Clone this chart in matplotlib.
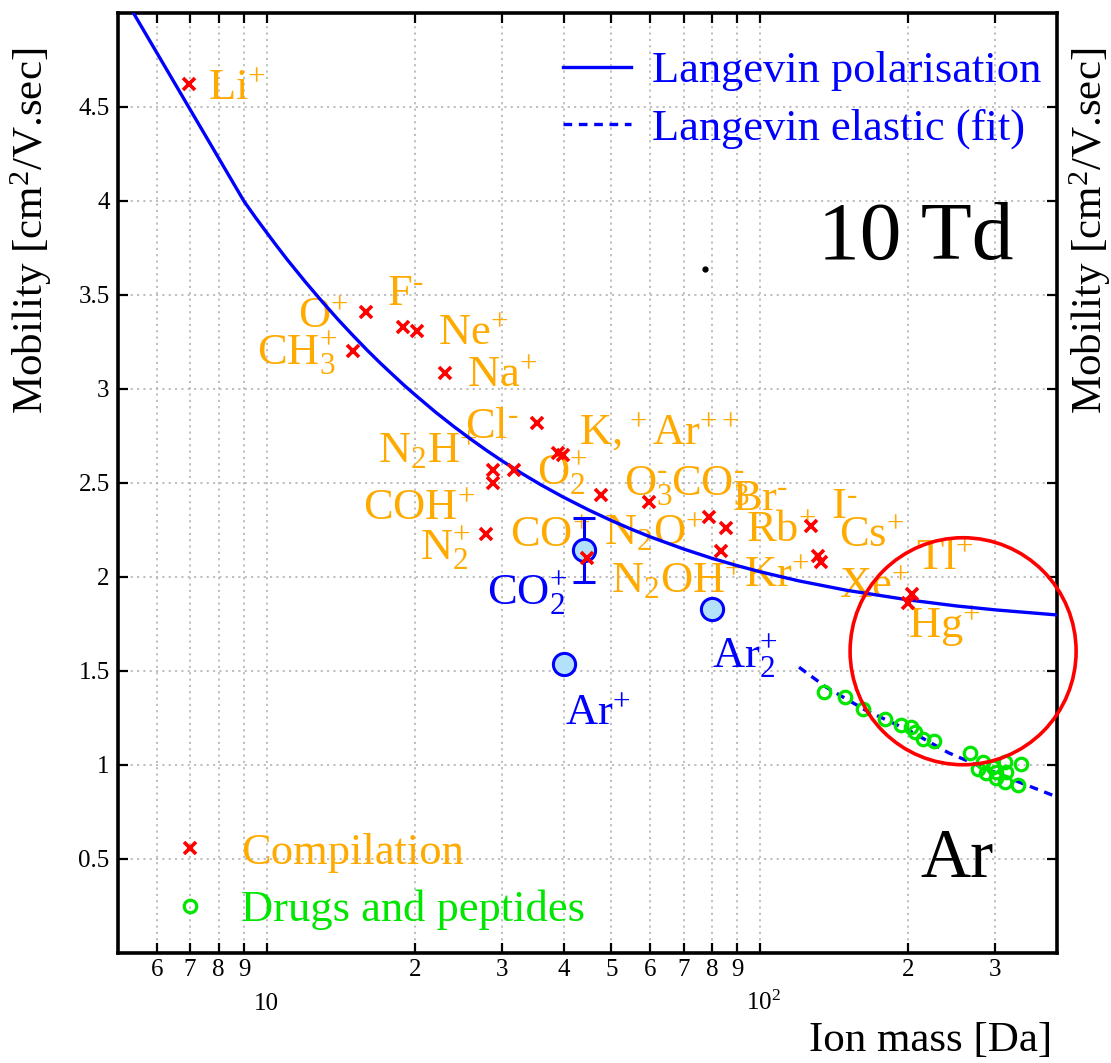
import matplotlib
matplotlib.use('Agg')
import matplotlib.pyplot as plt
from matplotlib.patches import Ellipse
from matplotlib.ticker import FixedLocator, FixedFormatter, NullFormatter
import matplotlib.transforms as mtransforms

plt.rcParams['font.family'] = ['Liberation Serif', 'DejaVu Serif']
plt.rcParams['mathtext.fontset'] = 'custom'
plt.rcParams['mathtext.rm'] = 'Liberation Serif'
plt.rcParams['mathtext.it'] = 'Liberation Serif:italic'
plt.rcParams['mathtext.bf'] = 'Liberation Serif:bold'
plt.rcParams['mathtext.default'] = 'rm'

# ---------------- data ----------------
# Langevin polarisation limit (Ar, 10 Td)
pol_mass = [5, 9, 9.5, 10, 10.5, 11, 12, 13, 14, 15, 16, 17, 18, 19, 20, 22,
            24, 26, 28, 30, 33, 36, 40, 45, 50, 55, 60, 70, 80, 90, 100, 120,
            150, 200, 250, 300, 400]
pol_mob = [5.14, 3.999, 3.912, 3.833, 3.759, 3.690, 3.568, 3.461, 3.366,
           3.282, 3.206, 3.138, 3.077, 3.020, 2.969, 2.877, 2.799, 2.731,
           2.671, 2.618, 2.549, 2.490, 2.424, 2.356, 2.300, 2.253, 2.213,
           2.149, 2.099, 2.060, 2.028, 1.979, 1.929, 1.878, 1.846, 1.825,
           1.798]

# Langevin elastic (fit)
el_mass = [120, 136, 164, 200, 241, 281, 338, 400]
el_mob = [1.52, 1.415, 1.29, 1.185, 1.065, 0.99, 0.905, 0.83]

# Compilation (red crosses)
comp_mass = [6.95, 15.9, 18.9, 20.2, 15.0, 23.0, 28.8, 28.8, 27.9, 31.8, 35.3,
             38.9, 39.8, 44.7, 47.7, 59.7, 78.9, 85.3, 83.4, 126.7, 131, 133,
             203, 200]
comp_mob = [4.62, 3.41, 3.33, 3.31, 3.20, 3.085, 2.57, 2.50, 2.23, 2.57, 2.82,
            2.66, 2.65, 2.10, 2.435, 2.40, 2.32, 2.26, 2.14, 2.27, 2.11, 2.08,
            1.91, 1.86]

# Drugs and peptides (green circles)
drug_mass = [135, 148.5, 162, 179, 193, 202, 206, 214, 225, 266.6, 283.5,
             276.7, 297, 314, 338, 287.6, 301, 315.5, 314, 333, 301]
drug_mob = [1.39, 1.36, 1.30, 1.245, 1.21, 1.20, 1.175, 1.14, 1.13, 1.064,
            1.016, 0.979, 0.989, 1.016, 1.005, 0.957, 0.931, 0.963, 0.910,
            0.894, 0.963]

# Argon ions (blue circles)
ar_mass = [44, 80, 40]
ar_mob = [2.145, 1.83, 1.537]
ar_err = [0.17, 0.0, 0.0]

# stray point
stray_mass = [77.4]
stray_mob = [3.64]

# ion labels (orange)
ion_labels = [r'$Li^{+}$', r'$O^{+}$', r'$F^{\text{-}}$', r'$Ne^{+}$',
              r'$CH_{3}^{+}$', r'$Na^{+}$', r'$Cl^{\text{-}}$',
              r'$N_{2}H^{+}$', r'$COH^{+}$', r'$N_{2}^{+}$', r'$K,^{+}$',
              r'$Ar^{++}$', r'$O_{2}^{+}$', r'$O_{3}^{\text{-}}$',
              r'$CO_{3}^{\text{-}}$', r'$Br^{\text{-}}$', r'$Rb^{+}$',
              r'$I^{\text{-}}$', r'$Cs^{+}$', r'$CO^{+}$', r'$N_{2}O^{+}$',
              r'$N_{2}OH^{+}$', r'$Kr^{+}$', r'$Xe^{+}$', r'$Tl^{+}$',
              r'$Hg^{+}$']
ion_label_mass = [7.6, 11.6, 17.55, 22.26, 9.55, 25.5, 25.2, 16.84, 15.7, 20.47,
                  43.0, 60.5, 35.3, 53.1, 66.1, 87.8, 93.7, 139.1, 144.5, 31.1,
                  48.4, 50.0, 92.8, 144.5, 207.6, 199.1]
ion_label_mob = [4.537, 3.324, 3.447, 3.234, 3.128, 3.011, 2.739, 2.606, 2.303,
                 2.090, 2.702, 2.702, 2.489, 2.436, 2.436, 2.356, 2.186, 2.314,
                 2.160, 2.160, 2.170, 1.915, 1.947, 1.888, 2.037, 1.676]

# argon labels (blue)
ar_labels = [r'$CO_{2}^{+}$', r'$Ar_{2}^{+}$', r'$Ar^{+}$']
ar_label_mass = [27.96, 80.0, 40.2]
ar_label_mob = [1.851, 1.516, 1.213]

# axis ticks
x_major = [10, 100]
x_major_labels = ['10', r'$10^{2}$']
x_minor = [6, 7, 8, 9, 20, 30, 40, 50, 60, 70, 80, 90, 200, 300]
x_minor_labels = ['6', '7', '8', '9', '2', '3', '4', '5', '6', '7', '8', '9',
                  '2', '3']
y_ticks = [0.5, 1, 1.5, 2, 2.5, 3, 3.5, 4, 4.5]
y_tick_labels = ['0.5', '1', '1.5', '2', '2.5', '3', '3.5', '4', '4.5']

# ---------------- figure ----------------
ORANGE = '#ffaa00'
GREEN = '#00e600'
BLUE = '#0000ff'
LFS = 32

fig = plt.figure(figsize=(11.11, 10.63), dpi=100)
ax = fig.add_axes([0.1062, 0.1035, 0.8452, 0.8843])
ax.set_xscale('log')
ax.set_xlim(5, 400)
ax.set_ylim(0, 5)
ax.set_axisbelow(True)

# ticks
ax.xaxis.set_major_locator(FixedLocator(x_major))
ax.xaxis.set_major_formatter(NullFormatter())
ax.xaxis.set_minor_locator(FixedLocator(x_minor))
ax.xaxis.set_minor_formatter(FixedFormatter(x_minor_labels))
ax.yaxis.set_major_locator(FixedLocator(y_ticks))
ax.yaxis.set_major_formatter(FixedFormatter(y_tick_labels))
ax.yaxis.set_minor_locator(FixedLocator([]))
ax.tick_params(which='both', direction='in', top=True, right=True,
               length=7, width=1.6, labelsize=18, color='black')
ax.tick_params(axis='x', which='minor', pad=4)
ax.tick_params(axis='y', which='major', pad=6)
for s in ax.spines.values():
    s.set_linewidth(2.6)

for v, s in zip(x_major, x_major_labels):
    off = 4 if '^' in s else 0
    tr = mtransforms.offset_copy(ax.get_xaxis_transform(), fig=fig,
                                 x=off, y=0, units='dots')
    ax.text(v, -0.0606, s, transform=tr, ha='center', va='baseline',
            fontsize=18)

# grid
ax.grid(True, which='both', axis='x', color='#b4b4b4', lw=1.2,
        ls=(0, (1.3, 2.5)))
ax.grid(True, which='major', axis='y', color='#b4b4b4', lw=1.2,
        ls=(0, (1.3, 2.5)))

# curves
h_pol, = ax.plot(pol_mass, pol_mob, color=BLUE, lw=2.4, zorder=3,
                 label='Langevin polarisation')
h_el, = ax.plot(el_mass, el_mob, color=BLUE, lw=2.4, ls=(0, (2.6, 2.0)),
                zorder=3, label='Langevin elastic (fit)')

# argon ions
ax.errorbar(ar_mass, ar_mob, yerr=ar_err, fmt='none', ecolor=BLUE,
            elinewidth=2.2, capsize=8, capthick=2.2, zorder=4)
ax.plot(ar_mass, ar_mob, 'o', ms=16, mfc='#b4e1fa', mec=BLUE, mew=2.2,
        zorder=5)

# drugs & compilation
h_drug, = ax.plot(drug_mass, drug_mob, 'o', ms=9, mfc='none', mec=GREEN,
                  mew=2.3, zorder=4, label='Drugs and peptides')
h_comp, = ax.plot(comp_mass, comp_mob, 'x', ms=9, mec='#ff0000', mew=2.6,
                  zorder=6, label='Compilation')
ax.plot(stray_mass, stray_mob, 'o', ms=3.5, color='black', zorder=6)

# labels
for s, m, v in zip(ion_labels, ion_label_mass, ion_label_mob):
    ax.text(m, v, s, color=ORANGE, fontsize=LFS, ha='left', va='baseline',
            zorder=2)
for s, m, v in zip(ar_labels, ar_label_mass, ar_label_mob):
    ax.text(m, v, s, color=BLUE, fontsize=LFS, ha='left', va='baseline',
            zorder=2)

# highlight circle
ax.add_patch(Ellipse((0.900, 0.321), 0.2407, 0.2415, transform=ax.transAxes,
                     fill=False, ec='#ff0000', lw=2.6, clip_on=False,
                     zorder=5))

# big texts
ax.text(0.745, 0.738, '10 Td', transform=ax.transAxes, fontsize=60,
        ha='left', va='baseline')
ax.text(0.855, 0.081, 'Ar', transform=ax.transAxes, fontsize=50,
        ha='left', va='baseline')

# legends
leg1 = ax.legend(handles=[h_pol, h_el], loc='upper left',
                 bbox_to_anchor=(0.474, 0.9595), frameon=False, fontsize=LFS,
                 labelcolor=BLUE, handlelength=1.53, handletextpad=0.47,
                 borderpad=0, borderaxespad=0, labelspacing=0.38)
ax.add_artist(leg1)
leg2 = ax.legend(handles=[h_comp, h_drug], loc='upper left',
                 bbox_to_anchor=(0.0532, 0.128), frameon=False, fontsize=LFS,
                 labelcolor=[ORANGE, GREEN], handlelength=1.0,
                 handletextpad=0.65, borderpad=0, borderaxespad=0,
                 labelspacing=0.38)

# axis labels
ax.set_xlabel('Ion mass [Da]', fontsize=31, loc='right')
ax.xaxis.set_label_coords(0.9947, -0.073)
ax.set_ylabel(r'Mobility [$cm^{2}$/V.sec]', fontsize=31, loc='top')
ax.yaxis.set_label_coords(-0.068, 0.963)
ax.text(1.035, 0.963, r'Mobility [$cm^{2}$/V.sec]', transform=ax.transAxes,
        rotation=90, fontsize=31, ha='center', va='top')

fig.savefig('out.png', dpi=100)
